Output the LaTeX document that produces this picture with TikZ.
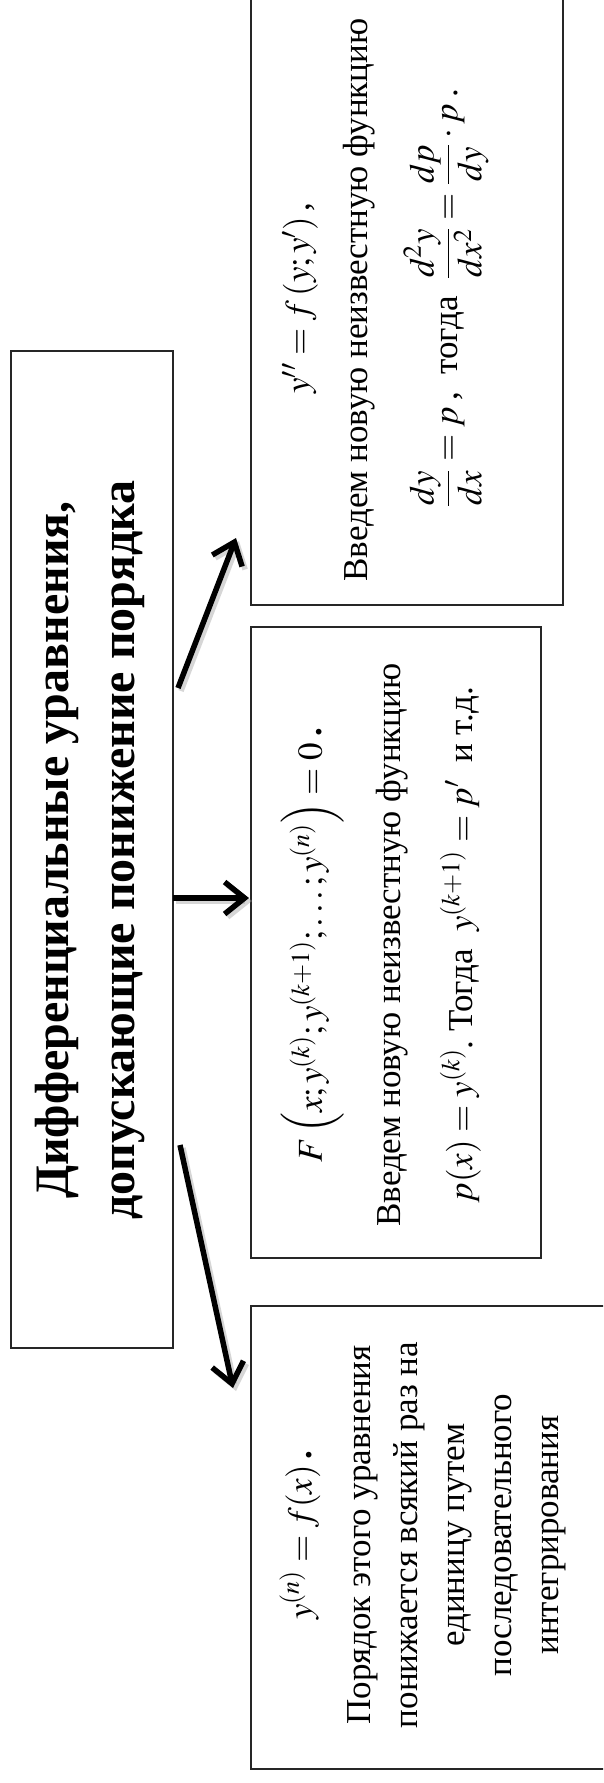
\RequirePackage{fix-cm}
\documentclass[tikz,border=0pt]{standalone}
\usepackage{amsmath}
\usepackage{mathptmx}
\usepackage{fontspec}
\setmainfont{Liberation Serif}
\usetikzlibrary{arrows.meta}
\tikzset{
  box/.style={draw=black!85, line width=1.8pt, anchor=north west, inner sep=0pt, fill=none},
  bodytxt/.style={rotate=90, inner sep=0pt, font=\fontsize{35}{47}\selectfont},
  titletxt/.style={rotate=90, inner sep=0pt, align=center, font=\fontsize{48}{66}\selectfont\bfseries},
  arr/.style={line width=5.5pt, line join=miter, -{Straight Barb[length=20pt,width=32pt,line join=miter]}},
  arrshadow/.style={arr, draw=black!35, opacity=0.45, transform canvas={xshift=3pt,yshift=-3pt}},
}
\begin{document}
\begin{tikzpicture}[x=1pt,y=-1pt]
\useasboundingbox (0,0) rectangle (603,1783);
\clip (0,0) rectangle (603,1783);
\fill[white] (0,0) rectangle (603,1783);

% boxes
\node[box, minimum width=162pt, minimum height=997pt] (main) at (10,350) {};
\node[box, minimum width=312pt, minimum height=609pt] (top) at (250,-5) {};
\node[box, minimum width=290pt, minimum height=631pt] (mid) at (250,626) {};
\node[box, minimum width=380pt, minimum height=463pt] (bot) at (250,1305) {};

% title
\node[titletxt] (title) at (90,850) {Дифференциальные уравнения,\\допускающие понижение порядка};

% top box text
\node[bodytxt] (t1) at (300,298) {$y''=f\left(y;y'\right)$\,,};
\node[bodytxt, anchor=base] (t2) at (367,300) {Введем новую неизвестную функцию};
\node[bodytxt] (t3) at (446,298) {$\dfrac{dy}{dx}=p$\,,\ \ тогда\ \ $\dfrac{d^2y}{dx^2}=\dfrac{dp}{dy}\cdot p$\,.};

% middle box text
\node[bodytxt] (m1) at (313,945) {$F\left(x;y^{(k)};y^{(k+1)};\ldots;y^{(n)}\right)=0$\,\textbf{.}};
\node[bodytxt, anchor=base] (m2) at (400,945) {Введем новую неизвестную функцию};
\node[bodytxt, anchor=base] (m3) at (472,945) {$p(x)=y^{(k)}$.\ Тогда\ \ $y^{(k+1)}=p'$\ \ и т.д.};

% bottom box text
\node[bodytxt] (b1) at (300,1535) {$y^{(n)}=f(x)$\,\textbf{.}};
\node[bodytxt, anchor=base] (b2) at (370,1535) {Порядок этого уравнения};
\node[bodytxt, anchor=base] (b3) at (417,1535) {понижается всякий раз на};
\node[bodytxt, anchor=base] (b4) at (464,1535) {единицу путем};
\node[bodytxt, anchor=base] (b5) at (511,1535) {последовательного};
\node[bodytxt, anchor=base] (b6) at (558,1535) {интегрирования};

% arrows
\coordinate (a1s) at (178,688);
\coordinate (a1e) at (236,538);
\coordinate (a2s) at (173,898);
\coordinate (a2e) at (249,898);
\coordinate (a3s) at (180,1145);
\coordinate (a3e) at (233,1388);
\draw[arrshadow] (a1s) -- (a1e);
\draw[arrshadow] (a2s) -- (a2e);
\draw[arrshadow] (a3s) -- (a3e);
\draw[arr] (a1s) -- (a1e);
\draw[arr] (a2s) -- (a2e);
\draw[arr] (a3s) -- (a3e);
\end{tikzpicture}
\end{document}
